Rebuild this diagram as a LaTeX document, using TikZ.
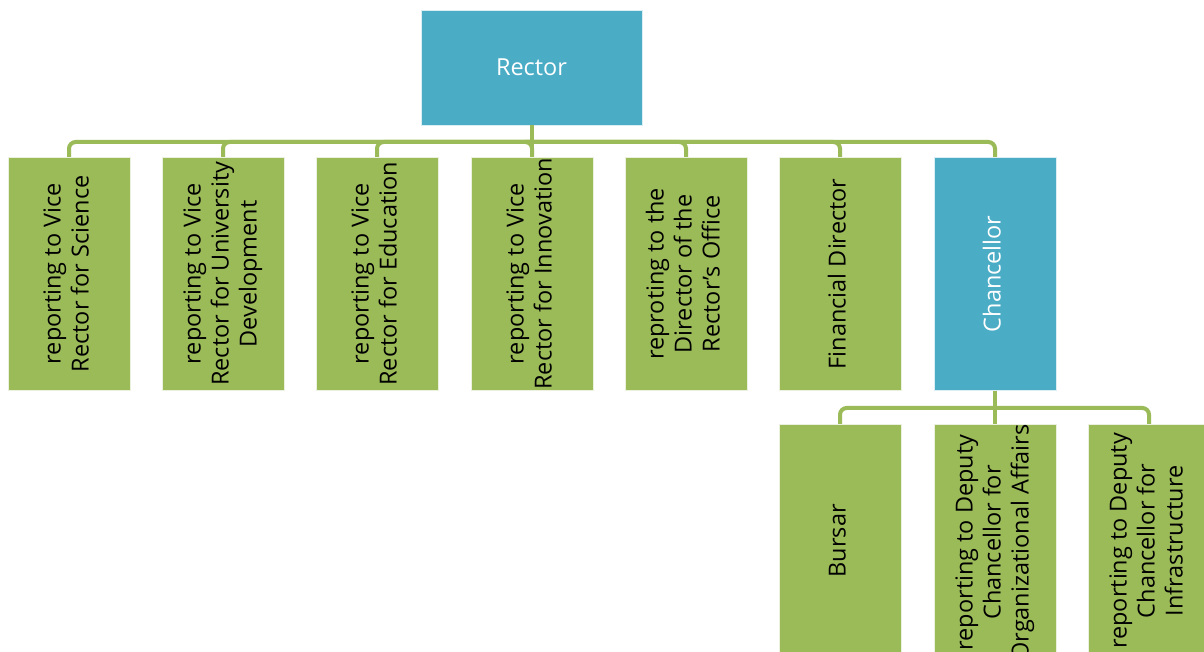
\documentclass[tikz,border=0pt]{standalone}
\usepackage{fontspec}
\setmainfont{Open Sans}
\definecolor{boxgreen}{HTML}{9BBB59}
\definecolor{boxblue}{HTML}{4BACC6}
\newcommand\vtext[1]{\rotatebox{90}{\begin{tabular}{@{}c@{}}#1\end{tabular}}}
\begin{document}
\begin{tikzpicture}[x=0.75pt,y=-0.75pt,
  every node/.style={font=\fontsize{17.6}{21}\selectfont},
  gbox/.style={fill=boxgreen, draw=white!80!boxgreen, line width=0.5pt, minimum width=91.5pt, minimum height=174.75pt, inner sep=0pt, anchor=north, text=black},
  bbox/.style={gbox, fill=boxblue, draw=white!80!boxblue, text=white},
  conn/.style={draw=boxgreen, line width=3pt}
]
\clip (0,0) rectangle (1204,652);
\useasboundingbox (0,0) rectangle (1204,652);
\node[fill=boxblue, draw=white!80!boxblue, line width=0.5pt, minimum width=165.75pt, minimum height=86.25pt, inner sep=0pt, text=white] (rector) at (531.5,67.5) {Rector};

\node[gbox] (c1) at (69,157) {\vtext{reporting to Vice\\Rector for Science}};
\node[gbox] (c2) at (223,157) {\vtext{reporting to Vice\\Rector for University\\Development}};
\node[gbox] (c3) at (377,157) {\vtext{reporting to Vice\\Rector for Education}};
\node[gbox] (c4) at (532,157) {\vtext{reporting to Vice\\Rector for Innovation}};
\node[gbox] (c5) at (686,157) {\vtext{reproting to the\\Director of the\\Rector's Office}};
\node[gbox] (c6) at (840,157) {\vtext{Financial Director}};
\node[bbox] (c7) at (995,157) {\vtext{Chancellor}};

\node[gbox] (d1) at (840,424) {\vtext{Bursar}};
\node[gbox] (d2) at (995,424) {\vtext{reporting to Deputy\\Chancellor for\\Organizational Affairs}};
\node[gbox] (d3) at (1149,424) {\vtext{reporting to Deputy\\Chancellor for\\Infrastructure}};

\coordinate (bus1) at (531.5,142);
\coordinate (bus2) at (995,408);
\draw[conn] (rector.south) -- ([yshift=-6pt]bus1);
\foreach \c in {c1,c2,c3,c4,c5,c6,c7}{
  \draw[conn] (bus1) [rounded corners=5pt] -- (bus1 -| \c.north) -- (\c.north);
}
\draw[conn] (c7.south) -- ([yshift=-6pt]bus2);
\foreach \c in {d1,d2,d3}{
  \draw[conn] (bus2) [rounded corners=5pt] -- (bus2 -| \c.north) -- (\c.north);
}
\end{tikzpicture}
\end{document}
